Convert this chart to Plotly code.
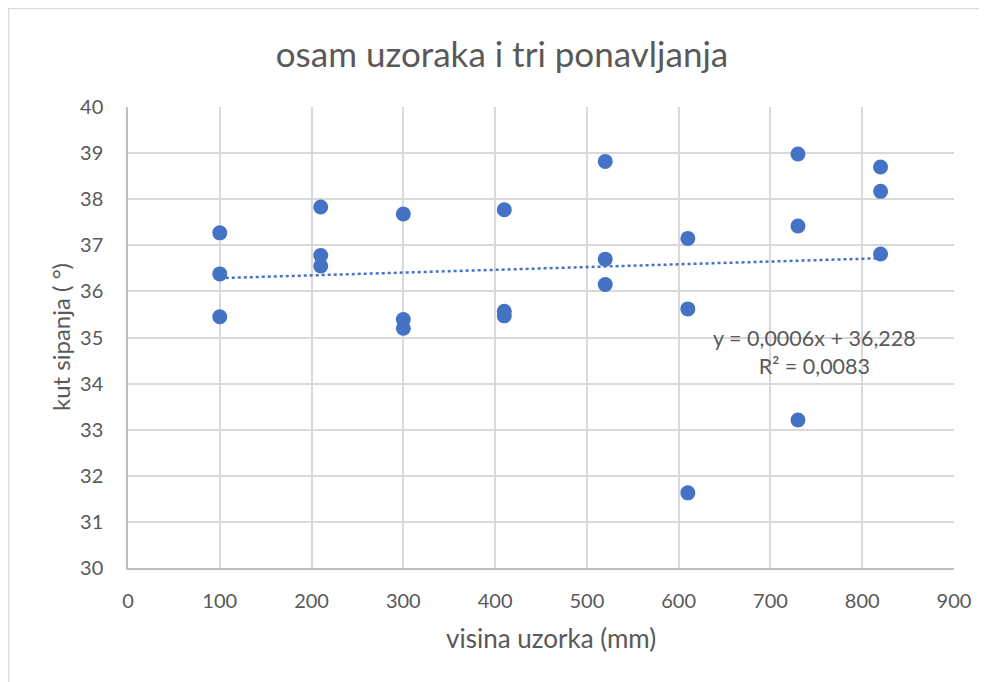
import numpy as np
import plotly.graph_objects as go

# Data: sample height (mm) and angle of repose (°), three repetitions
visina = [100, 100, 100, 210, 210, 210, 300, 300, 300, 410, 410, 410,
          520, 520, 520, 610, 610, 610, 730, 730, 730, 820, 820, 820]
kut = [37.27, 36.38, 35.45, 37.83, 36.78, 36.55, 37.68, 35.39, 35.20,
       37.77, 35.57, 35.47, 38.82, 36.70, 36.15, 37.15, 35.62, 31.63,
       38.98, 37.42, 33.21, 38.70, 38.17, 36.81]

trend_slope = 0.0006
trend_intercept = 36.228
equation_text = "y = 0,0006x + 36,228<br>R² = 0,0083"

x_ticks = [0, 100, 200, 300, 400, 500, 600, 700, 800, 900]
y_ticks = [30, 31, 32, 33, 34, 35, 36, 37, 38, 39, 40]

blue = "#4472C4"
txt = "#595959"
grid = "#D9D9D9"
font_family = "Lato, Open Sans, sans-serif"

W, H = 979, 674
ML, MR, MT, MB = 120, 33, 99, 114
PW, PH = W - ML - MR, H - MT - MB
OFF = 8  # page offset of the figure


def px(xr):
    return (xr - OFF - ML) / PW


def py(yr):
    return 1 - (yr - OFF - MT) / PH


tx = np.array([min(visina), max(visina)], dtype=float)
ty = trend_slope * tx + trend_intercept

fig = go.Figure()
fig.add_trace(go.Scatter(
    x=tx, y=ty, mode="lines",
    line=dict(color=blue, width=2.5, dash="dot"),
    hoverinfo="skip", showlegend=False))
fig.add_trace(go.Scatter(
    x=visina, y=kut, mode="markers",
    marker=dict(color=blue, size=15),
    showlegend=False))

fig.add_annotation(
    x=px(814), y=py(352), xref="paper", yref="paper", text=equation_text,
    showarrow=False, align="center", xanchor="center", yanchor="middle",
    font=dict(family=font_family, size=21.5, color=txt))

fig.add_annotation(
    x=px(60), y=py(337), xref="paper", yref="paper",
    text="kut sipanja ( °)", textangle=-90, showarrow=False,
    xanchor="center", yanchor="middle",
    font=dict(family=font_family, size=24, color=txt))

fig.add_annotation(
    x=px(551), y=py(638), xref="paper", yref="paper",
    text="visina uzorka (mm)", showarrow=False,
    xanchor="center", yanchor="middle",
    font=dict(family=font_family, size=26, color=txt))

fig.update_layout(
    width=W, height=H,
    margin=dict(l=ML, r=MR, t=MT, b=MB),
    paper_bgcolor="white", plot_bgcolor="white",
    font=dict(family=font_family, color=txt, size=20),
    title=dict(text="osam uzoraka i tri ponavljanja", x=px(502), xref="paper",
               xanchor="center", y=1 - 47 / H, yanchor="middle",
               font=dict(family=font_family, size=35, color=txt)),
    xaxis=dict(range=[0, 900], tickvals=x_ticks, showgrid=True, gridcolor=grid,
               gridwidth=1.5, zeroline=False, showline=True, linecolor="#BFBFBF",
               linewidth=1.5, ticks="outside", ticklen=14,
               tickcolor="rgba(0,0,0,0)",
               tickfont=dict(size=20, color=txt)),
    yaxis=dict(range=[30, 40], tickvals=y_ticks, showgrid=True, gridcolor=grid,
               gridwidth=1.5, zeroline=False, showline=True, linecolor="#BFBFBF",
               linewidth=1.5, ticks="outside", ticklen=19,
               tickcolor="rgba(0,0,0,0)",
               tickfont=dict(size=20, color=txt)),
    shapes=[dict(type="rect", xref="paper", yref="paper",
                 x0=-(ML - 0.5) / PW, x1=1.2, y0=-0.5, y1=1 + (MT - 0.5) / PH,
                 line=dict(color="#D9D9D9", width=1.5), fillcolor="rgba(0,0,0,0)",
                 layer="below")],
)

fig.write_html("out.html")
